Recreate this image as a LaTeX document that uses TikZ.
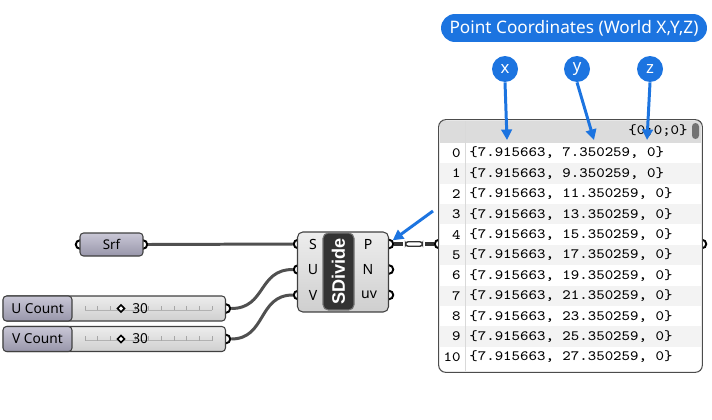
\documentclass[tikz,border=0pt]{standalone}
\usepackage{fontspec}
\setmainfont{Noto Sans}
\newfontfamily\boldfont{Liberation Sans}
\newfontfamily\panelfont{Latin Modern Mono}[FakeStretch=1.12]
\usetikzlibrary{arrows.meta,shapes.geometric}

\definecolor{calloutBlue}{HTML}{1C74E0}
\definecolor{wireGrey}{HTML}{505050}
\definecolor{capTop}{HTML}{C9C7D6}
\definecolor{capBottom}{HTML}{9896AA}
\definecolor{bodyTop}{HTML}{EDEDED}
\definecolor{bodyBottom}{HTML}{CFCFCF}
\definecolor{headerGrey}{HTML}{DCDCDC}
\definecolor{rowShade}{HTML}{F3F3F3}

\tikzset{
	grip/.style={circle, draw=black, fill=white, line width=1.1pt, minimum size=0.17cm, inner sep=0pt},
	wire/.style={wireGrey, line width=1.7pt},
	callout/.style={circle, fill=calloutBlue, text=white, minimum size=0.52cm, inner sep=0pt, font=\fontsize{9.5}{10}\selectfont},
	calloutArrow/.style={calloutBlue, line width=1.7pt, -{Triangle[length=6pt,width=6pt]}},
	capsule/.style={rectangle, draw=black!75, line width=0.6pt, rounded corners=2pt, top color=capTop, bottom color=capBottom},
	sliderBody/.style={rectangle, draw=black!75, line width=0.6pt, rounded corners=2pt, top color=bodyTop, bottom color=bodyBottom, minimum width=4.44cm, minimum height=0.5cm},
	portLabel/.style={inner sep=0pt, font=\fontsize{8}{9}\selectfont},
	rowText/.style={anchor=west, inner sep=0pt, font=\panelfont\fontsize{8.1}{9}\selectfont},
	rowIndex/.style={anchor=east, inner sep=0pt, font=\panelfont\fontsize{8.1}{9}\selectfont}
}

\begin{document}
\begin{tikzpicture}[x=0.02cm, y=-0.02cm]
	\useasboundingbox (0,0) rectangle (712,419);

	% grips
	\node[grip](srfIn) at (80,244.5){};
	\node[grip](srfOut) at (143,244.5){};
	\node[grip](uCountOut) at (226,308.5){};
	\node[grip](vCountOut) at (226,339){};
	\node[grip](sIn) at (298,244){};
	\node[grip](uIn) at (298,269.5){};
	\node[grip](vIn) at (298,295){};
	\node[grip](pOut) at (389,244){};
	\node[grip](nOut) at (389,269.5){};
	\node[grip](uvOut) at (389,295){};
	\node[grip](panelIn) at (439,244){};
	\node[grip](panelOut) at (702,244){};

	% wires
	\draw[wire] (srfOut.east) -- (sIn.west);
	\draw[wire] (uCountOut.east) .. controls +(35,0) and +(-35,0) .. (uIn.west);
	\draw[wire] (vCountOut.east) .. controls +(35,0) and +(-35,0) .. (vIn.west);
	\draw[black!80, line width=2.4pt] (pOut.east) -- (403,244);
	\draw[black!80, line width=2.4pt] (425,244) -- (panelIn.west);
	\node[rectangle, draw=black!80, fill=white, line width=0.8pt, rounded corners=1.5pt, minimum width=0.34cm, minimum height=0.09cm, inner sep=0pt](previewWire) at (414,244){};

	% srf param
	\node[capsule, minimum width=1.26cm, minimum height=0.46cm, font=\fontsize{7.6}{9}\selectfont](srfParam) at (111.5,244.5){Srf};

	% sliders
	\node[sliderBody](uCountBody) at (114.5,308.5){};
	\node[capsule, minimum width=1.38cm, minimum height=0.5cm, font=\fontsize{7.8}{9}\selectfont](uCountLabel) at (37.5,308.5){U Count};
	\node[sliderBody](vCountBody) at (114.5,339){};
	\node[capsule, minimum width=1.38cm, minimum height=0.5cm, font=\fontsize{7.8}{9}\selectfont](vCountLabel) at (37.5,339){V Count};
	\foreach \s/\yy in {u/308.5, v/339}{
		\draw[gray!60, line width=0.4pt] (85,\yy+1.5) -- (212,\yy+1.5);
		\foreach \k in {0,...,10}
			\draw[gray!70, line width=0.4pt] (85+12.7*\k,\yy+1.5) -- (85+12.7*\k,\yy-3);
		\node[diamond, draw=black, fill=white, line width=0.9pt, inner sep=0pt, minimum size=0.15cm](\s Knob) at (121,\yy){};
		\node[portLabel, anchor=west, font=\fontsize{7.8}{9}\selectfont](\s Value) at (132,\yy){30};
	}

	% sdivide component
	\node[rectangle, draw=black!75, line width=0.6pt, rounded corners=3pt, top color=bodyTop, bottom color=bodyBottom, minimum width=1.82cm, minimum height=1.6cm](sDivide) at (343,272){};
	\node[rectangle, draw=black!55, fill=black!80, line width=0.6pt, rounded corners=3pt, minimum width=0.62cm, minimum height=1.54cm](sDivideName) at (338.5,271.5){};
	\node[rotate=90, text=white, inner sep=0pt, font=\boldfont\bfseries\fontsize{10.3}{11}\selectfont] at (sDivideName.center){SDivide};
	\node[portLabel](sLabel) at (313,244){S};
	\node[portLabel](uLabel) at (313,269.5){U};
	\node[portLabel](vLabel) at (313,295){V};
	\node[portLabel](pLabel) at (368,244){P};
	\node[portLabel](nLabel) at (368,269.5){N};
	\node[portLabel](uvLabel) at (369,295){uv};

	% panel
	\node[rectangle, fill=white, minimum width=5.26cm, minimum height=5.04cm](panel) at (570.5,246){};
	\fill[headerGrey] (440,121) rectangle (701,143);
	\foreach \i in {0,...,10}{
		\pgfmathsetmacro\rowY{153+20.4*\i}
		\pgfmathtruncatemacro\rowV{7+2*\i}
		\ifodd\i \fill[rowShade] (440,\rowY-10.2) rectangle (701,\rowY+10.2); \fi
		\node[rowIndex](index\i) at (461,\rowY){\i};
		\node[rowText](row\i) at (469,\rowY){\{7.915663, \rowV.350259, 0\}};
	}
	\draw[gray!30, line width=0.5pt] (465,121) -- (465,371);
	\node[rowIndex](panelHeader) at (688,131){\{0;0;0\}};
	\fill[black!55, rounded corners=2pt] (692,123) rectangle (699,139);
	\draw[black!70, line width=0.6pt, rounded corners=4pt] (panel.north west) rectangle (panel.south east);

	% callouts
	\node[rectangle, fill=calloutBlue, text=white, rounded corners=0.28cm, minimum width=5.32cm, minimum height=0.56cm, font=\fontsize{9.8}{11}\selectfont](coordTitle) at (574,28){Point Coordinates (World X,Y,Z)};
	\node[callout](xTag) at (505,69){x};
	\node[callout](yTag) at (577,69){y};
	\node[callout](zTag) at (650,69){z};
	\coordinate(xTip) at (507,140);
	\coordinate(yTip) at (594,140);
	\coordinate(zTip) at (647,140);
	\coordinate(pTail) at (433,211);
	\draw[calloutArrow] (xTag.south) -- (xTip);
	\draw[calloutArrow] (yTag.south) -- (yTip);
	\draw[calloutArrow] (zTag.south) -- (zTip);
	\draw[calloutArrow] (pTail) -- (pOut.north east);
\end{tikzpicture}
\end{document}
